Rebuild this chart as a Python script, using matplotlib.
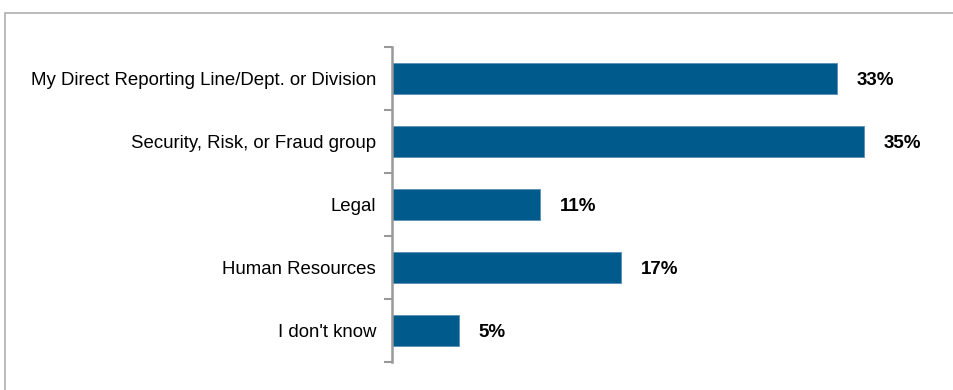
import numpy as np
import matplotlib.pyplot as plt
from matplotlib.patches import Rectangle

categories = ["My Direct Reporting Line/Dept. or Division",
              "Security, Risk, or Fraud group",
              "Legal",
              "Human Resources",
              "I don't know"]
values = [33, 35, 11, 17, 5]

plt.rcParams['font.family'] = ['Liberation Sans', 'DejaVu Sans']

fig = plt.figure(figsize=(9.54, 3.9), dpi=100)

# outer frame of the slide panel
fig.patches.append(Rectangle((5 / 954, -0.1), 1.0, 1 - 13 / 390 + 0.1,
                             transform=fig.transFigure, fill=False,
                             edgecolor='#b0b0b0', linewidth=1.2))

ax = fig.add_axes([392 / 954, 28 / 390, 540 / 954, 315 / 390])

y = np.arange(len(categories))
ax.barh(y, values, height=0.49, color='#005a8c', edgecolor='#5b8fb5', linewidth=0.6)
ax.set_ylim(len(categories) - 0.5, -0.5)
ax.set_xlim(0, 40)

for yi, v in zip(y, values):
    ax.text(v + 1.4, yi + 0.03, f"{v}%", va='center', ha='left',
            fontsize=13.5, fontweight='bold', color='black')

ax.set_yticks(y)
ax.set_yticklabels(categories, fontsize=13.4)
ax.set_yticks(np.arange(-0.5, len(categories)), minor=True)
ax.tick_params(axis='y', which='major', length=0, pad=11.5)
ax.tick_params(axis='y', which='minor', length=6, width=1.5, color='#999999')
ax.set_xticks([])

for s in ['top', 'right', 'bottom']:
    ax.spines[s].set_visible(False)
ax.spines['left'].set_color('#999999')
ax.spines['left'].set_linewidth(1.8)

fig.savefig('out.png', dpi=100)
